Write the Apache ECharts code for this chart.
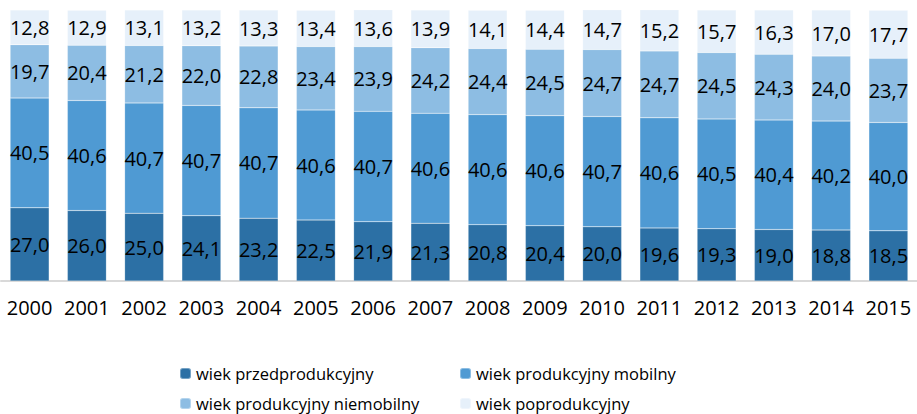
<!DOCTYPE html>
<html>
<head>
<meta charset="utf-8">
<script src="https://cdn.jsdelivr.net/npm/echarts@6/dist/echarts.min.js"></script>
<style>
html, body { margin: 0; padding: 0; background: #fff; }
#chart { width: 917px; height: 414px; }
</style>
</head>
<body>
<div id="chart"></div>
<script>
const years = ['2000', '2001', '2002', '2003', '2004', '2005', '2006', '2007',
    '2008', '2009', '2010', '2011', '2012', '2013', '2014', '2015'];
const przedprodukcyjny = [27.0, 26.0, 25.0, 24.1, 23.2, 22.5, 21.9, 21.3, 20.8, 20.4, 20.0, 19.6, 19.3, 19.0, 18.8, 18.5];
const mobilny = [40.5, 40.6, 40.7, 40.7, 40.7, 40.6, 40.7, 40.6, 40.6, 40.6, 40.7, 40.6, 40.5, 40.4, 40.2, 40.0];
const niemobilny = [19.7, 20.4, 21.2, 22.0, 22.8, 23.4, 23.9, 24.2, 24.4, 24.5, 24.7, 24.7, 24.5, 24.3, 24.0, 23.7];
const poprodukcyjny = [12.8, 12.9, 13.1, 13.2, 13.3, 13.4, 13.6, 13.9, 14.1, 14.4, 14.7, 15.2, 15.7, 16.3, 17.0, 17.7];

const names = ['wiek przedprodukcyjny', 'wiek produkcyjny mobilny',
    'wiek produkcyjny niemobilny', 'wiek poprodukcyjny'];
const colors = ['#2c70a5', '#4f9ad3', '#8dbde3', '#e6f0fa'];
const font = '"Open Sans", "Noto Sans", sans-serif';

const chart = echarts.init(document.getElementById('chart'), null, { renderer: 'svg' });

const mkSeries = (name, data, color) => ({
    name: name,
    type: 'bar',
    stack: 'total',
    data: data,
    barWidth: 39,
    itemStyle: { color: color, borderColor: 'rgba(255,255,255,0.35)', borderWidth: 0.5 },
    label: {
        show: true,
        position: 'inside',
        color: '#000',
        fontFamily: font,
        fontSize: 20,
        formatter: p => p.value.toFixed(1).replace('.', ',')
    }
});

// one legend per item so the two columns line up like the original
const legendPos = [[179, 365], [459, 365], [179, 395], [459, 395]];
const legends = names.map((n, i) => ({
    data: [n],
    left: legendPos[i][0],
    top: legendPos[i][1],
    padding: 0,
    itemWidth: 11, itemHeight: 11, itemGap: 4,
    textStyle: { color: '#000', fontFamily: font, fontSize: 16.5 }
}));

chart.setOption({
    animation: false,
    grid: { left: 1, top: 10, width: 924, height: 271 },
    xAxis: {
        type: 'category',
        data: years,
        axisLine: { lineStyle: { color: '#d9d9d9', width: 2 } },
        axisTick: { show: false },
        axisLabel: { color: '#000', fontFamily: font, fontSize: 20, margin: 16, interval: 0 }
    },
    yAxis: { type: 'value', min: 0, max: 100, show: false },
    legend: legends,
    series: [
        mkSeries(names[0], przedprodukcyjny, colors[0]),
        mkSeries(names[1], mobilny, colors[1]),
        mkSeries(names[2], niemobilny, colors[2]),
        mkSeries(names[3], poprodukcyjny, colors[3])
    ]
});
</script>
</body>
</html>
